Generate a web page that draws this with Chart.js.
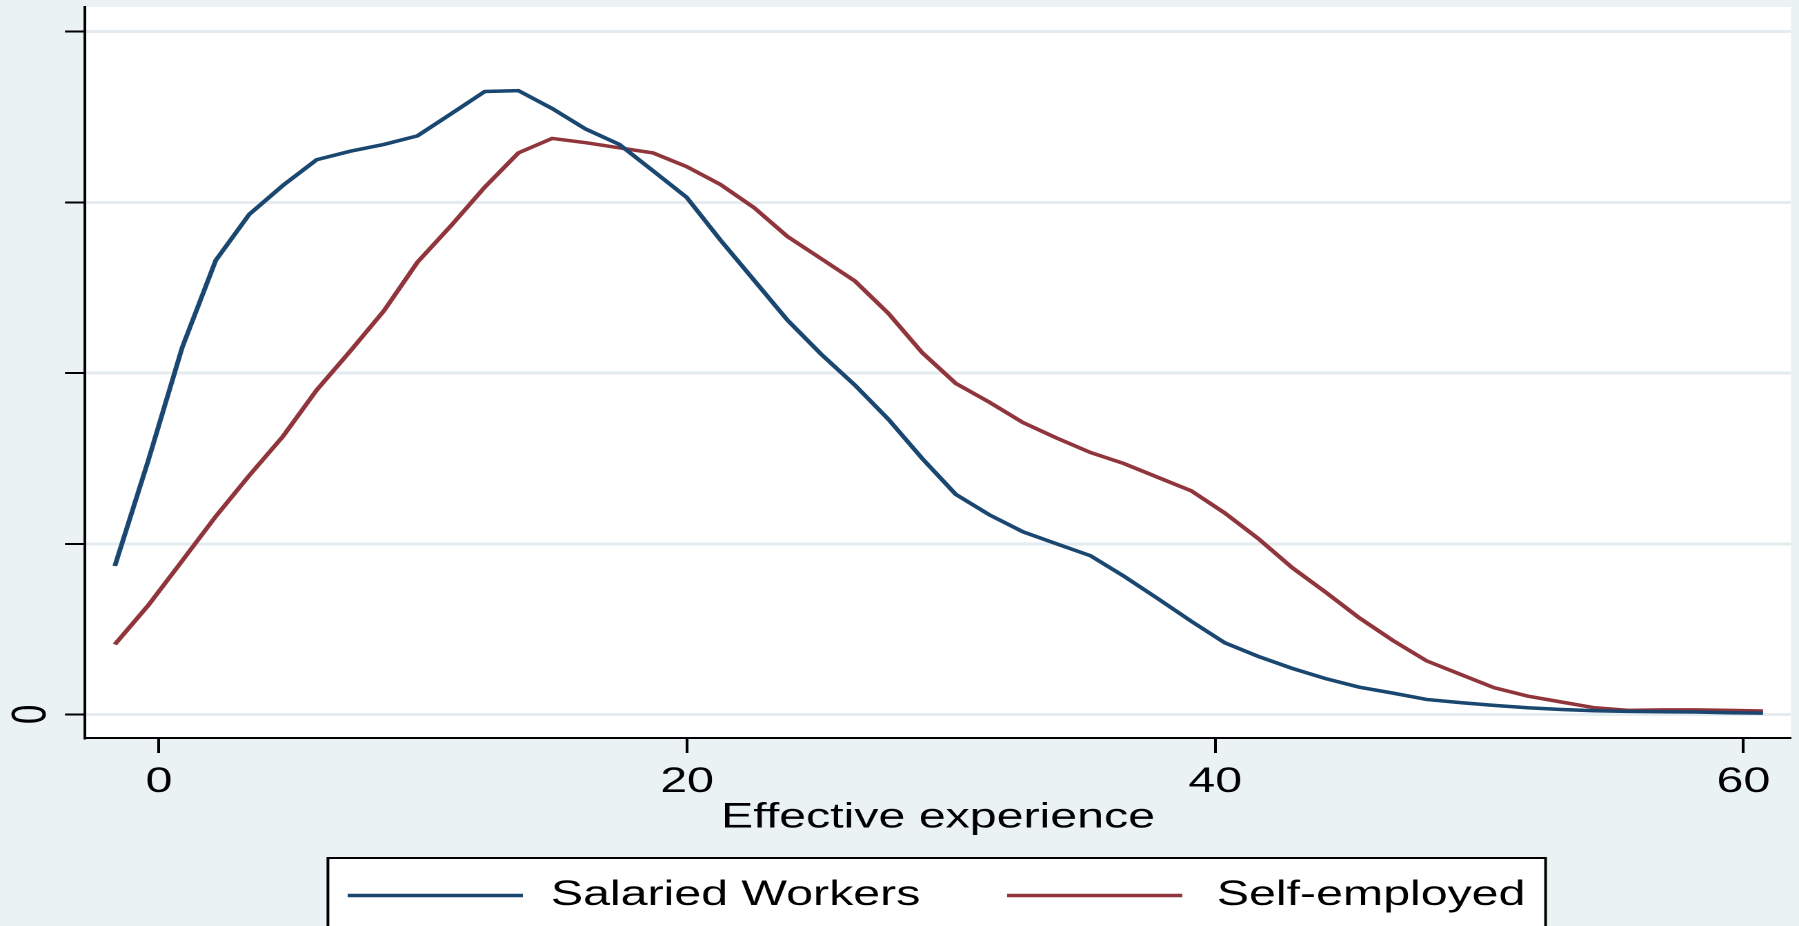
<!DOCTYPE html>
<html>
<head>
<meta charset="utf-8">
<title>Effective experience density</title>
<script src="https://cdn.jsdelivr.net/npm/chart.js@4.4.1/dist/chart.umd.min.js"></script>
<style>
  html, body { margin: 0; padding: 0; width: 1799px; height: 926px; overflow: hidden; background: #EAF2F3; }
  /* the graph is laid out at a 1304px width and widened to the full page */
  #frame { position: absolute; left: 0; top: 0; width: 1304px; height: 926px;
           transform: scaleX(1.3796); transform-origin: 0 0; }
  canvas { display: block; }
</style>
</head>
<body>
<div id="frame"><canvas id="chart"></canvas></div>
<script>
// Evaluation points (years of effective experience)
const experience = [
  -1.67, -0.40, 0.88, 2.15, 3.42, 4.70, 5.97, 7.25, 8.52, 9.79,
  11.07, 12.34, 13.61, 14.89, 16.16, 17.43, 18.71, 19.98, 21.26, 22.53,
  23.80, 25.08, 26.35, 27.62, 28.90, 30.17, 31.44, 32.72, 33.99, 35.27,
  36.54, 37.81, 39.09, 40.36, 41.63, 42.91, 44.18, 45.45, 46.73, 48.00,
  49.28, 50.55, 51.82, 53.10, 54.37, 55.64, 56.92, 58.19, 59.46, 60.74
];

// Kernel density, salaried workers (x100)
const salaried = [
  0.87, 1.49, 2.15, 2.66, 2.93, 3.10, 3.25, 3.30, 3.34, 3.39,
  3.52, 3.65, 3.655, 3.55, 3.43, 3.34, 3.185, 3.03, 2.78, 2.545,
  2.31, 2.11, 1.93, 1.73, 1.50, 1.29, 1.17, 1.07, 1.00, 0.93,
  0.81, 0.68, 0.546, 0.42, 0.34, 0.27, 0.21, 0.16, 0.125, 0.088,
  0.069, 0.053, 0.039, 0.029, 0.022, 0.018, 0.016, 0.014, 0.010, 0.008
];

// Kernel density, self-employed (x100)
const selfEmployed = [
  0.41, 0.64, 0.90, 1.16, 1.40, 1.63, 1.90, 2.13, 2.365, 2.65,
  2.865, 3.09, 3.29, 3.375, 3.35, 3.32, 3.29, 3.21, 3.105, 2.97,
  2.80, 2.67, 2.54, 2.35, 2.12, 1.94, 1.83, 1.71, 1.62, 1.535,
  1.47, 1.39, 1.31, 1.18, 1.03, 0.86, 0.716, 0.566, 0.433, 0.314,
  0.235, 0.157, 0.108, 0.073, 0.039, 0.024, 0.027, 0.027, 0.024, 0.020
];

const seriesNames = ['Salaried Workers', 'Self-employed'];
const xTickValues = [0, 20, 40, 60];
const yTickValues = [0, 1, 2, 3, 4];
const yTickLabels = ['0', '', '', '', ''];
const xTitle = 'Effective experience';

const FONT = "'Liberation Sans', Arial, Helvetica, sans-serif";
const NAVY = '#1A476F';
const MAROON = '#90353B';
const PAGE_BG = '#EAF2F3';
const GRID = '#E4ECEF';

const toPoints = ys => experience.map((x, i) => ({ x: x, y: ys[i] }));

// Page and plot-region fills
const regionFill = {
  id: 'regionFill',
  beforeDraw(chart) {
    const { ctx, chartArea: a } = chart;
    ctx.save();
    ctx.fillStyle = PAGE_BG;
    ctx.fillRect(0, 0, chart.width, chart.height);
    ctx.fillStyle = '#FFFFFF';
    ctx.fillRect(a.left, a.top, a.right - a.left, a.bottom - a.top);
    ctx.restore();
  }
};

// Boxed legend below the axis title
const boxedLegend = {
  id: 'boxedLegend',
  afterDraw(chart) {
    const ctx = chart.ctx;
    const box = { left: 237.7, right: 1120.3, top: 858, bottom: 990 };
    const rowY = 895.5;
    const items = [
      { x0: 252, x1: 379, tx: 399.3 },
      { x0: 730, x1: 857, tx: 882 }
    ];
    ctx.save();
    ctx.fillStyle = '#FFFFFF';
    ctx.fillRect(box.left, box.top, box.right - box.left, box.bottom - box.top);
    ctx.strokeStyle = '#000000';
    ctx.lineWidth = 2;
    ctx.strokeRect(box.left, box.top, box.right - box.left, box.bottom - box.top);
    chart.data.datasets.forEach((ds, i) => {
      const it = items[i];
      ctx.strokeStyle = ds.borderColor;
      ctx.lineWidth = 3.5;
      ctx.beginPath();
      ctx.moveTo(it.x0, rowY);
      ctx.lineTo(it.x1, rowY);
      ctx.stroke();
      ctx.fillStyle = '#000000';
      ctx.font = '35px ' + FONT;
      ctx.textAlign = 'left';
      ctx.textBaseline = 'middle';
      ctx.fillText(ds.label, it.tx, rowY);
    });
    ctx.restore();
  }
};

new Chart(document.getElementById('chart'), {
  type: 'line',
  data: {
    datasets: [
      { label: seriesNames[0], data: toPoints(salaried), borderColor: NAVY,
        borderWidth: 3.5, pointRadius: 0, tension: 0, fill: false },
      { label: seriesNames[1], data: toPoints(selfEmployed), borderColor: MAROON,
        borderWidth: 3.5, pointRadius: 0, tension: 0, fill: false }
    ]
  },
  plugins: [regionFill, boxedLegend],
  options: {
    responsive: true,
    maintainAspectRatio: false,
    animation: false,
    devicePixelRatio: 2,
    layout: { padding: { left: 0, right: 5.8, top: 7, bottom: 87 } },
    plugins: { legend: { display: false }, tooltip: { enabled: false } },
    scales: {
      x: {
        type: 'linear',
        min: -2.8,
        max: 61.8,
        afterBuildTicks: s => { s.ticks = xTickValues.map(v => ({ value: v })); },
        afterFit: s => { s.height = 101; s.paddingLeft = 0; s.paddingRight = 0; },
        grid: { drawOnChartArea: false, drawTicks: true, tickLength: 15,
                tickWidth: 2, tickColor: '#000000' },
        border: { display: true, color: '#000000', width: 2 },
        ticks: { autoSkip: false, maxRotation: 0, minRotation: 0, padding: 8.5,
                 color: '#000000', font: { family: FONT, size: 35 } },
        title: { display: true, text: xTitle, color: '#000000',
                 font: { family: FONT, size: 35 }, padding: { top: 0, bottom: 0 } }
      },
      y: {
        type: 'linear',
        min: -0.138,
        max: 4.145,
        afterBuildTicks: s => { s.ticks = yTickValues.map(v => ({ value: v })); },
        afterFit: s => { s.width = 61.6; s.paddingTop = 0; s.paddingBottom = 0; },
        grid: { color: GRID, lineWidth: 3, drawTicks: true, tickLength: 14.5,
                tickWidth: 2, tickColor: '#000000' },
        border: { display: true, color: '#000000', width: 2 },
        ticks: {
          callback: (v) => yTickLabels[yTickValues.indexOf(v)],
          minRotation: 90, maxRotation: 90, crossAlign: 'center', padding: 14,
          color: '#000000', font: { family: FONT, size: 35 }
        }
      }
    }
  }
});
</script>
</body>
</html>
